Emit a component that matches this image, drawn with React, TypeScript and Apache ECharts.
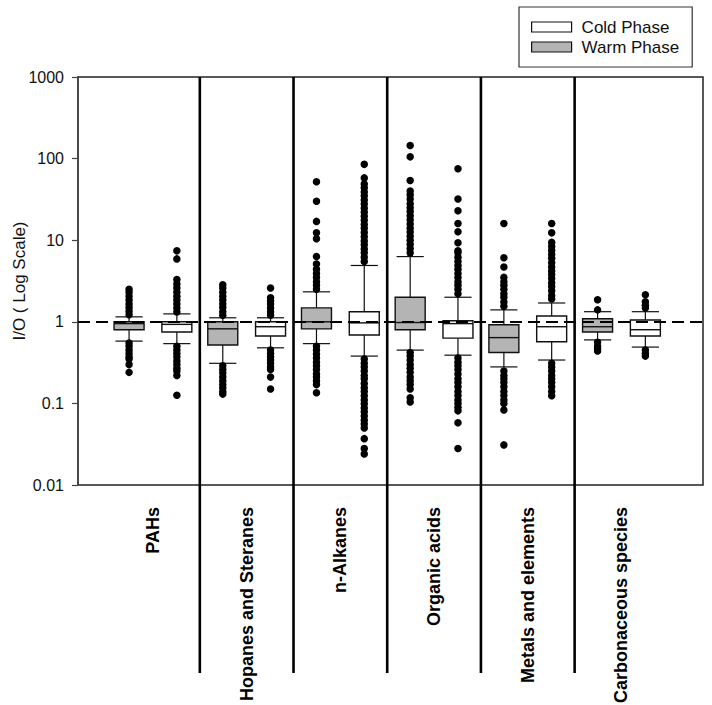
import React, { useEffect, useRef } from "react";
import * as echarts from "echarts";

const categories = [
  "PAHs",
  "Hopanes and Steranes",
  "n-Alkanes",
  "Organic acids",
  "Metals and elements",
  "Carbonaceous species",
];

// [lower whisker, Q1, median, Q3, upper whisker]
const warmBoxes = [
  [0.58, 0.8, 0.95, 1.0, 1.15],
  [0.31, 0.52, 0.82, 1.0, 1.12],
  [0.54, 0.82, 1.0, 1.48, 2.33],
  [0.45, 0.8, 0.98, 2.0, 6.3],
  [0.28, 0.42, 0.64, 0.92, 1.4],
  [0.6, 0.75, 0.87, 1.09, 1.33],
];
const coldBoxes = [
  [0.54, 0.75, 0.93, 1.0, 1.25],
  [0.48, 0.67, 0.87, 1.0, 1.12],
  [0.38, 0.69, 0.97, 1.33, 4.9],
  [0.39, 0.63, 0.95, 1.03, 2.0],
  [0.34, 0.57, 0.87, 1.18, 1.7],
  [0.49, 0.67, 0.8, 1.05, 1.33],
];

const warmOutliers = [
  [1.22, 1.35, 1.5, 1.65, 1.85, 2.05, 2.3, 2.5, 0.55, 0.5, 0.45, 0.41, 0.37, 0.35, 0.3, 0.24],
  [1.2, 1.33, 1.5, 1.65, 1.85, 2.05, 2.3, 2.6, 2.85, 0.29, 0.26, 0.235, 0.21, 0.19, 0.17, 0.155, 0.14, 0.13],
  [2.5, 2.8, 3.1, 3.5, 3.9, 4.4, 5.1, 6.3, 10.4, 12.3, 17, 30, 52,
    0.5, 0.45, 0.4, 0.36, 0.32, 0.29, 0.26, 0.23, 0.21, 0.19, 0.17, 0.135],
  [7, 7.9, 8.9, 10, 11.2, 12.6, 14, 15.8, 17.8, 20, 22.4, 25, 28, 32, 36, 40, 54, 105, 145,
    0.42, 0.38, 0.34, 0.3, 0.27, 0.24, 0.21, 0.19, 0.17, 0.15, 0.117, 0.104],
  [1.55, 1.75, 2.0, 2.2, 2.5, 2.8, 3.1, 3.5, 4.7, 6.1, 16,
    0.25, 0.22, 0.2, 0.18, 0.16, 0.14, 0.125, 0.11, 0.1, 0.083, 0.031],
  [1.4, 1.86, 0.56, 0.5, 0.47, 0.44],
];
const coldOutliers = [
  [1.32, 1.48, 1.65, 1.85, 2.05, 2.3, 2.6, 2.9, 3.3, 5.9, 7.4,
    0.5, 0.45, 0.41, 0.37, 0.33, 0.3, 0.27, 0.25, 0.22, 0.126],
  [1.2, 1.33, 1.48, 1.65, 1.8, 1.97, 2.6, 0.45, 0.41, 0.37, 0.34, 0.31, 0.28, 0.26, 0.21, 0.15],
  [5.5, 6.2, 7, 7.8, 8.8, 9.8, 11, 12.4, 14, 15.6, 17.5, 19.6, 22, 24.7, 27.7, 31, 35, 39, 44, 49, 58, 85,
    0.35, 0.31, 0.28, 0.25, 0.22, 0.2, 0.175, 0.156, 0.14, 0.124, 0.11, 0.099, 0.088, 0.079, 0.07,
    0.062, 0.056, 0.05, 0.037, 0.028, 0.024],
  [2.2, 2.5, 2.8, 3.1, 3.5, 3.9, 4.4, 4.9, 5.5, 6.2, 7.0, 7.4, 9.3, 12.7, 16, 23, 32, 75,
    0.36, 0.32, 0.29, 0.26, 0.23, 0.2, 0.18, 0.16, 0.14, 0.125, 0.11, 0.1, 0.09, 0.081, 0.058, 0.028],
  [1.9, 2.1, 2.4, 2.7, 3.0, 3.4, 3.8, 4.2, 4.7, 5.3, 6.0, 6.7, 7.5, 8.4, 9.4, 12.3, 16,
    0.31, 0.28, 0.25, 0.22, 0.2, 0.18, 0.16, 0.14, 0.124],
  [1.48, 1.6, 1.76, 2.15, 0.45, 0.41, 0.38],
];

const yTicks = [0.01, 0.1, 1, 10, 100, 1000];
const referenceLevel = 1;

const WARM_OFF = -0.255;
const COLD_OFF = 0.255;
const BOX_W = 0.32;
const CAP_W = 0.29;
const FONT = "'Liberation Sans', Arial, Helvetica, sans-serif";

function renderBox(params: any, api: any) {
  const x = api.value(0);
  const lo = api.value(1), q1 = api.value(2), med = api.value(3), q3 = api.value(4), hi = api.value(5);
  const xl = api.coord([x - BOX_W / 2, q3])[0];
  const xr = api.coord([x + BOX_W / 2, q3])[0];
  const xc = api.coord([x, q3])[0];
  const cl = api.coord([x - CAP_W / 2, q3])[0];
  const cr = api.coord([x + CAP_W / 2, q3])[0];
  const yq3 = api.coord([x, q3])[1];
  const yq1 = api.coord([x, q1])[1];
  const ylo = api.coord([x, lo])[1];
  const yhi = api.coord([x, hi])[1];
  const ymed = api.coord([x, med])[1];
  const fill = api.visual("color");
  const ls = { stroke: "#111", lineWidth: 1.2 };
  return {
    type: "group",
    children: [
      { type: "line", shape: { x1: xc, y1: yq3, x2: xc, y2: yhi }, style: ls },
      { type: "line", shape: { x1: xc, y1: yq1, x2: xc, y2: ylo }, style: ls },
      { type: "line", shape: { x1: cl, y1: yhi, x2: cr, y2: yhi }, style: ls },
      { type: "line", shape: { x1: cl, y1: ylo, x2: cr, y2: ylo }, style: ls },
      {
        type: "rect",
        shape: { x: xl, y: yq3, width: xr - xl, height: yq1 - yq3 },
        style: { fill, stroke: "#111", lineWidth: 1.4 },
      },
      { type: "line", shape: { x1: xl, y1: ymed, x2: xr, y2: ymed }, style: { stroke: "#111", lineWidth: 1.4 } },
    ],
  };
}

export default function App() {
  const ref = useRef<HTMLDivElement>(null);
  useEffect(() => {
    document.body.style.margin = "0";
    const chart = echarts.init(ref.current!, undefined, { renderer: "svg" });
    const outlierPts = [
      ...warmOutliers.flatMap((arr, i) => arr.map((v) => [i + WARM_OFF, v])),
      ...coldOutliers.flatMap((arr, i) => arr.map((v) => [i + COLD_OFF, v])),
    ];
    const sepData = categories.slice(1).map((_, i) => [i + 0.5, yTicks[yTicks.length - 1]]);
    const labelData = categories.map((_, i) => [i, yTicks[0]]);
    chart.setOption({
      animation: false,
      grid: {
        left: 78, right: 9, top: 77, bottom: 220,
        outerBoundsMode: "none", containLabel: false,
        show: true, borderColor: "#222", borderWidth: 1.5, backgroundColor: "transparent",
      },
      legend: {
        orient: "vertical",
        left: 519, top: 7,
        padding: [11, 13, 11, 12],
        itemWidth: 40, itemHeight: 10, itemGap: 2,
        borderColor: "#333", borderWidth: 1.2,
        textStyle: { fontSize: 17, lineHeight: 18, color: "#111", fontFamily: FONT, padding: [0, 0, 0, 5] },
        data: [
          { name: "Cold Phase", icon: "rect", itemStyle: { color: "#ffffff", borderColor: "#111", borderWidth: 1.2 } },
          { name: "Warm Phase", icon: "rect", itemStyle: { color: "#b4b4b4", borderColor: "#111", borderWidth: 1.2 } },
        ],
        selectedMode: false,
      },
      xAxis: {
        type: "value", min: -0.8, max: 5.87,
        axisLine: { show: false }, axisTick: { show: false }, axisLabel: { show: false }, splitLine: { show: false },
      },
      yAxis: {
        type: "log", logBase: 10,
        min: yTicks[0], max: yTicks[yTicks.length - 1],
        name: "I/O ( Log Scale)", nameLocation: "middle", nameGap: 50, nameMoveOverlap: false,
        nameTextStyle: { fontSize: 17, color: "#111", fontFamily: FONT },
        axisLine: { show: true, onZero: false, lineStyle: { color: "#444", width: 1.5 } },
        axisTick: { show: true, length: 6, lineStyle: { color: "#444", width: 1.2 } },
        minorTick: { show: false },
        axisLabel: {
          fontSize: 16, color: "#111", margin: 14, fontFamily: FONT,
          formatter: (v: number) => String(Number(v.toPrecision(6))),
        },
        splitLine: { show: false },
      },
      series: [
        {
          name: "Warm Phase", type: "custom", renderItem: renderBox,
          itemStyle: { color: "#b4b4b4" }, z: 2,
          encode: { x: 0, y: [1, 2, 3, 4, 5] },
          data: warmBoxes.map((b, i) => [i + WARM_OFF, ...b]),
        },
        {
          name: "Cold Phase", type: "custom", renderItem: renderBox,
          itemStyle: { color: "#ffffff" }, z: 2,
          encode: { x: 0, y: [1, 2, 3, 4, 5] },
          data: coldBoxes.map((b, i) => [i + COLD_OFF, ...b]),
        },
        {
          name: "outliers", type: "scatter", symbol: "circle", symbolSize: 7.5, z: 3,
          itemStyle: { color: "#000", opacity: 1 }, silent: true,
          data: outlierPts,
          markLine: {
            silent: true, symbol: ["none", "none"], label: { show: false },
            lineStyle: { color: "#000", width: 2.2, type: [12, 6] },
            data: [{ yAxis: referenceLevel }],
          },
        },
        {
          name: "separators", type: "custom", clip: false, silent: true, z: 5,
          renderItem: (params: any, api: any) => {
            const p = api.coord([api.value(0), api.value(1)]);
            const bottom = api.coord([api.value(0), yTicks[0]])[1];
            return {
              type: "line",
              shape: { x1: p[0], y1: p[1], x2: p[0], y2: bottom + 188 },
              style: { stroke: "#000", lineWidth: 2.6 },
            };
          },
          data: sepData,
        },
        {
          name: "labels", type: "custom", clip: false, silent: true, z: 5,
          renderItem: (params: any, api: any) => {
            const p = api.coord([api.value(0), api.value(1)]);
            return {
              type: "text",
              x: p[0], y: p[1] + 22, rotation: Math.PI / 2,
              style: {
                text: categories[params.dataIndex],
                align: "right", verticalAlign: "middle",
                fontSize: 18, fontWeight: "bold", fontFamily: FONT, fill: "#000",
              },
            };
          },
          data: labelData,
        },
      ],
    });
    return () => chart.dispose();
  }, []);
  return <div ref={ref} style={{ width: 712, height: 705 }} />;
}
